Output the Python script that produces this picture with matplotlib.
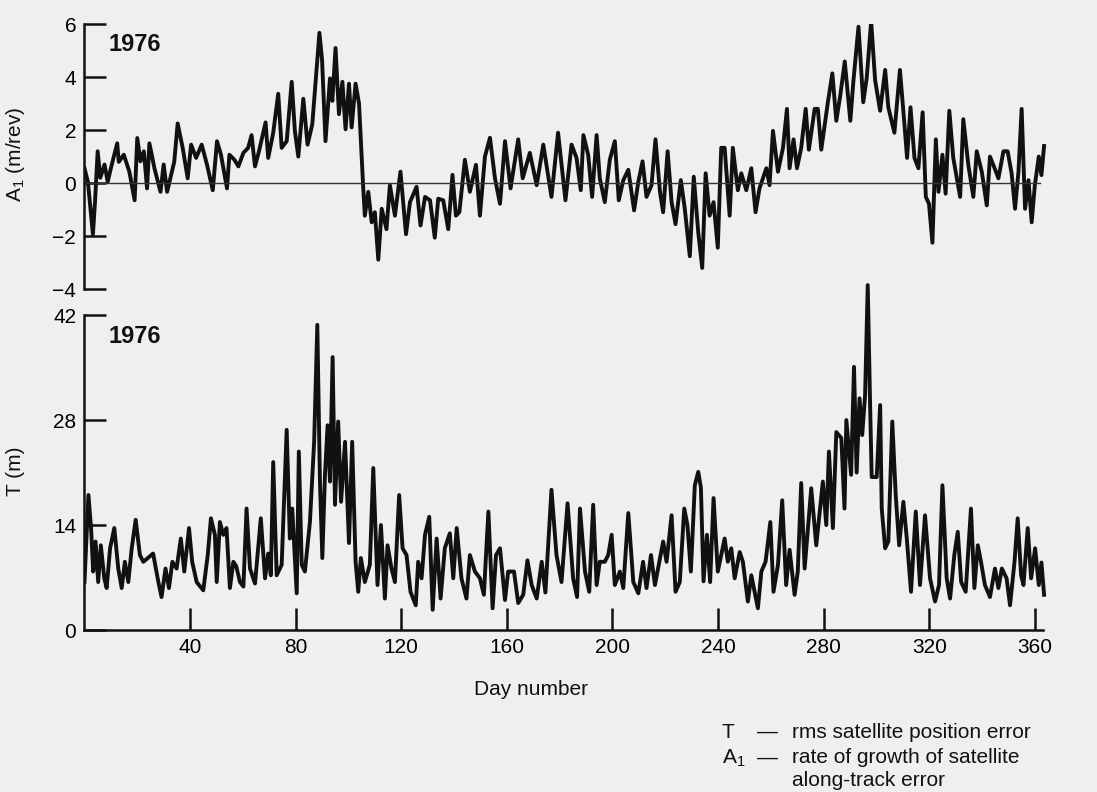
import matplotlib.pyplot as plt

plt.rcParams['font.family'] = ['Liberation Sans', 'DejaVu Sans']
plt.rcParams['mathtext.fontset'] = 'custom'
plt.rcParams['mathtext.rm'] = 'Liberation Sans'

# A1 (m/rev), day number vs value
a1_day = [0, 1.3, 3.2, 4, 5, 6, 7.6, 8.8, 10, 12.4, 13, 14.9, 17, 19, 20, 21.2, 22.5, 23.7, 24.6, 26.5,
          28.8, 30, 31.3, 32.8, 34, 35.3, 37.2, 39.1, 40.4, 42.3, 44.4, 46.4, 48.6, 50.2, 51.7, 54, 54.9, 56.8,
          58.3, 60.2, 62, 63.3, 64.6, 66.1, 68.6, 69.6, 71.5, 73.4, 74.7, 76.6, 78.5, 79.7, 81, 82.9, 84.5,
          86.3, 87.6, 89, 90, 91.3, 93, 93.9, 95.1, 96.4, 97.7, 98.9, 100.2, 101.2, 102.7, 104, 105.6, 106.2,
          107.5, 108.8, 110, 111.3, 112.6, 114.4, 115.7, 117.6, 119.7, 121.8, 123.3, 125.8, 127.3, 129, 130.9,
          132.7, 134, 135.9, 137.8, 139.4, 140.7, 142, 144.1, 146, 148.3, 149.8, 151.7, 153.6, 155.5, 157.4,
          159.3, 161.4, 164.3, 166, 168.7, 171.3, 173.8, 176.9, 179.4, 182.2, 184.5, 186.4, 188, 189, 190.8,
          192.3, 194, 195.2, 197.1, 199, 200.9, 202.4, 204.1, 206, 208.2, 209.8, 211.4, 212.9, 214.8, 216.3,
          218, 219.2, 220.9, 222.4, 223.9, 225.9, 227.4, 229.3, 230.8, 232.5, 234, 235.3, 236.8, 238.3, 239.9,
          241.2, 242.5, 244.4, 245.6, 247.5, 248.8, 250.7, 252.6, 254.2, 255.7, 258.3, 259.5, 260.8, 262.7,
          264.6, 266.1, 267.1, 268.6, 269.9, 271.5, 273.2, 274.4, 276.6, 277.8, 279.1, 281.6, 283.3, 284.8,
          286.3, 288, 290.1, 291.3, 293.2, 295, 296.3, 298, 299.5, 301.4, 303.3, 304.5, 306.8, 308.9, 310.6,
          311.6, 312.9, 314.4, 315.9, 317.5, 318.7, 319.9, 321.2, 322.5, 323.5, 325, 326.2, 327.6, 329.1,
          331.7, 332.9, 334.8, 336.7, 338, 339.9, 341.8, 343, 345, 346.2, 348.1, 349.7, 351.2, 352.5, 353.8,
          355, 356.3, 357.6, 358.8, 360, 361.5, 362.5, 363.5]
a1_val = [0.56, 0.05, -1.93, -0.7, 1.2, 0.2, 0.7, 0.05, 0.56, 1.5, 0.8, 1.07, 0.43, -0.65, 1.7, 0.82, 1.2,
          -0.2, 1.5, 0.56, -0.33, 0.7, -0.33, 0.3, 0.8, 2.25, 1.33, 0.18, 1.45, 0.95, 1.45, 0.7, -0.27, 1.58,
          1.07, -0.2, 1.07, 0.88, 0.63, 1.14, 1.33, 1.81, 0.63, 1.2, 2.29, 0.95, 1.9, 3.37, 1.33, 1.58, 3.82,
          1.97, 1.0, 3.18, 1.45, 2.22, 3.88, 5.67, 4.65, 1.58, 3.95, 3.1, 5.1, 2.6, 3.82, 2.03, 3.75, 2.1, 3.75,
          3.0, -0.2, -1.23, -0.33, -1.48, -1.1, -2.89, -0.97, -1.74, -0.08, -1.23, 0.43, -1.93, -0.72, -0.14,
          -1.6, -0.52, -0.65, -2.06, -0.59, -0.65, -1.74, 0.31, -1.23, -1.1, 0.88, -0.33, 0.69, -1.23, 1.0,
          1.71, 0.18, -0.78, 1.58, -0.2, 1.65, 0.18, 1.14, -0.08, 1.45, -0.52, 1.9, -0.65, 1.45, 0.95, -0.27,
          1.81, 1.07, -0.52, 1.81, 0.18, -0.72, 0.88, 1.58, -0.65, 0.11, 0.5, -1.03, 0.05, 0.82, -0.52, -0.08,
          1.65, -0.33, -1.1, 1.2, -0.72, -1.55, 0.11, -0.97, -2.76, 0.24, -1.86, -3.2, 0.37, -1.23, -0.72,
          -2.44, 1.33, 1.33, -1.23, 1.33, -0.27, 0.37, -0.27, 0.56, -1.1, -0.2, 0.56, -0.08, 1.97, 0.43, 1.33,
          2.8, 0.56, 1.65, 0.56, 1.33, 2.8, 1.26, 2.8, 2.8, 1.26, 3.05, 4.14, 2.35, 3.31, 4.59, 2.35, 3.88,
          5.9, 3.05, 3.95, 6.1, 3.88, 2.73, 4.27, 2.86, 1.9, 4.27, 2.22, 0.95, 2.86, 0.95, 0.56, 2.67, -0.52,
          -0.78, -2.25, 1.65, -0.33, 1.07, -0.4, 2.73, 0.95, -0.52, 2.41, 0.69, -0.52, 1.2, 0.43, -0.84, 1.0,
          0.5, 0.18, 1.2, 1.2, 0.37, -0.97, 0.43, 2.8, -0.97, 0.11, -1.48, -0.08, 1.0, 0.3, 1.4]

# T (m)
t_day = [0, 1.5, 2.5, 3.3, 4.2, 5.2, 6.2, 7.5, 8.4, 9.7, 11.3, 12.8, 14.1, 15.3, 16.6, 17.9, 19.4, 21, 22.3,
         24, 26, 28, 29.2, 30.7, 32, 33.3, 34.9, 36.5, 37.8, 39.6, 40.8, 42.5, 45, 46.7, 47.9, 49.4, 50.1,
         51.3, 52.6, 53.8, 55.1, 56.4, 57.5, 58.9, 60.2, 61.4, 62.7, 64.6, 66.8, 68.4, 69.6, 70.6, 71.5, 72.8,
         74.7, 76.6, 77.8, 78.7, 80.4, 81.2, 82.3, 83.5, 85.4, 87, 88.2, 89.2, 90.1, 91.1, 92.1, 93, 94, 94.9,
         96.1, 97.2, 98.7, 100.2, 101.4, 102.7, 103.7, 104.7, 106.2, 108.1, 109.4, 111, 112.3, 113.8, 114.8,
         116.3, 117.6, 119.2, 120.5, 122, 123.5, 125.5, 126.4, 127.7, 129, 130.6, 131.9, 133.4, 134.9, 136.5,
         138.4, 139.7, 141, 142.8, 144.7, 146, 147.9, 149.8, 151.3, 153, 154.6, 155.9, 157.4, 159.3, 160.5,
         162.7, 164.3, 166.2, 167.8, 169.4, 171.3, 173.2, 174.6, 176.9, 178.8, 180.7, 183, 185.1, 186.6,
         187.7, 189.6, 191.2, 192.7, 194, 195.2, 197.1, 198.4, 199.7, 200.9, 202.8, 204.1, 206, 207.9, 209.8,
         211.6, 212.9, 214.6, 216.1, 218, 219.2, 220.5, 222.4, 223.9, 225.5, 227.2, 228.4, 229.7, 231.2,
         232.5, 233.5, 234.5, 235.8, 237, 238.3, 239.9, 242.5, 243.7, 245, 246.3, 248.2, 249.4, 251.3, 252.6,
         255.1, 256.4, 258, 259.8, 261, 262.7, 264.3, 265.8, 267.1, 269, 270.2, 271.5, 272.8, 275.3, 277.2,
         279.7, 281, 282, 283.5, 284.8, 286.7, 287.9, 288.6, 290.4, 291.5, 292.5, 293.6, 294.6, 295.7, 296.7,
         297.6, 298.2, 300.1, 301.4, 302, 303.3, 304.5, 306, 307.3, 308.6, 310.2, 311.5, 313.1, 314.9, 316.5,
         318.4, 320.3, 322.2, 323.7, 325, 326.6, 327.9, 329.5, 330.8, 332.1, 333.8, 335.8, 337.1, 338.4,
         339.6, 341.1, 343, 344.9, 346.2, 347.5, 349.3, 350.6, 352.3, 353.5, 354.8, 355.7, 357.3, 358.6,
         360.1, 361.5, 362.5, 363.5]
t_val = [6.4, 18, 13.6, 7.8, 11.8, 6.4, 11.3, 6.9, 5.6, 10.9, 13.6, 8.2, 5.6, 9.1, 6.4, 10.9, 14.7, 10, 9.1,
         9.6, 10.2, 6.4, 4.4, 8.2, 5.6, 9.1, 8.2, 12.2, 7.8, 13.6, 9.1, 6.4, 5.3, 10, 14.9, 12.7, 6.4, 14.4,
         12.7, 13.6, 5.6, 9.1, 8.5, 6.4, 5.8, 16.2, 8.2, 6.2, 14.9, 6.9, 10.2, 7.3, 22.4, 7.3, 8.7, 26.7, 12.2,
         16.2, 4.9, 23.8, 8.7, 7.8, 14.4, 25.1, 40.7, 19.8, 9.6, 20.7, 27.3, 19.8, 36.4, 16.7, 27.8, 17.1,
         25.1, 11.6, 25.1, 9.1, 5.1, 9.6, 6.4, 8.7, 21.6, 6, 14, 4.2, 11.3, 8.2, 6.4, 18, 10.9, 10, 5.1, 3.3,
         9.1, 6.9, 12.7, 15.1, 2.7, 12.2, 4.2, 10.9, 12.9, 6.9, 13.6, 6.9, 4.2, 10, 7.8, 6.9, 4.7, 15.8, 2.9,
         10, 10.9, 4, 7.8, 7.8, 3.6, 4.7, 9.3, 6, 4.2, 9.1, 5.0, 18.7, 10, 6.4, 16.9, 6.9, 4.4, 16.2, 7.8, 5.1,
         16.7, 6, 9.1, 9.1, 10, 12.7, 6, 7.8, 5.6, 15.6, 6.4, 4.9, 9.1, 5.6, 10, 6, 9.6, 11.8, 9.1, 15.3, 5.1,
         6.4, 16.2, 14, 7.8, 19.3, 21.1, 19, 6.5, 12.7, 6.4, 17.6, 7.8, 12.2, 9.1, 10.9, 6.9, 10.4, 9.1, 3.8,
         7.3, 2.9, 7.8, 9.1, 14.4, 5.1, 8.7, 17.3, 6, 10.7, 4.7, 7.8, 19.6, 8.2, 18.9, 11.3, 19.8, 14, 23.8,
         13.6, 26.4, 25.6, 16.2, 28, 20.7, 35.1, 21, 30.9, 26, 31.3, 46, 30, 20.4, 20.4, 30, 16.2, 10.9, 11.8,
         27.8, 18, 11.3, 17.1, 12.2, 5.1, 15.8, 6, 15.3, 6.9, 3.8, 6, 19.3, 6.9, 4.2, 10, 13.1, 6.4, 5.1, 16.2,
         5.6, 11.3, 9.1, 6, 4.4, 8.2, 5.6, 8.2, 6.9, 3.3, 9.1, 14.9, 7.3, 6, 13.6, 6.9, 10.9, 6, 9, 4.7]

x_ticks = [40, 80, 120, 160, 200, 240, 280, 320, 360]
a1_ticks = [-4, -2, 0, 2, 4, 6]
t_ticks = [0, 14, 28, 42]

ink = '#111111'
paper = '#efefef'

fig = plt.figure(figsize=(10.97, 7.92), dpi=100, facecolor=paper)

# upper panel: A1
ax1 = fig.add_axes([0.077, 0.635, 0.8904, 0.3346])
ax1.set_facecolor('none')
ax1.plot(a1_day, a1_val, color=ink, lw=2.8, solid_joinstyle='round')
ax1.plot([0, 362], [0, 0], color='#333333', lw=1.0)
ax1.set_xlim(0, 370)
ax1.set_ylim(-4, 6)
for s in ['top', 'right', 'bottom']:
    ax1.spines[s].set_visible(False)
ax1.spines['left'].set_linewidth(1.8)
ax1.spines['left'].set_color(ink)
ax1.set_xticks([])
ax1.set_yticks(a1_ticks)
ax1.set_yticklabels([str(v).replace('-', '\u2212') for v in a1_ticks])
ax1.tick_params(axis='y', direction='in', length=16, width=1.8, color=ink, labelsize=15, pad=6)
ax1.text(9, 5.0, '1976', fontsize=17, fontweight='bold', color=ink)

# lower panel: T
ax2 = fig.add_axes([0.077, 0.2045, 0.8904, 0.445])
ax2.set_facecolor('none')
ax2.plot(t_day, t_val, color=ink, lw=2.8, solid_joinstyle='round')
ax2.set_xlim(0, 370)
ax2.set_ylim(0, 47)
for s in ['top', 'right']:
    ax2.spines[s].set_visible(False)
for s in ['left', 'bottom']:
    ax2.spines[s].set_linewidth(1.8)
    ax2.spines[s].set_color(ink)
ax2.spines['left'].set_bounds(0, 42)
ax2.spines['bottom'].set_bounds(0, 363)
ax2.set_xticks(x_ticks)
ax2.set_yticks(t_ticks)
ax2.tick_params(axis='both', direction='in', length=16, width=1.8, color=ink, labelsize=15, pad=6)
ax2.text(9, 38.3, '1976', fontsize=17, fontweight='bold', color=ink)

fig.text(0.484, 0.129, 'Day number', fontsize=15, ha='center', va='center', color=ink)
fig.text(0.014, 0.805, r'A$_1$ (m/rev)', rotation=90, fontsize=15, va='center', ha='center', color=ink)
fig.text(0.014, 0.405, 'T (m)', rotation=90, fontsize=15, va='center', ha='center', color=ink)

# key in the lower right
fig.text(0.658, 0.075, 'T', fontsize=15, color=ink, va='center')
fig.text(0.690, 0.075, '\u2014', fontsize=15, color=ink, va='center')
fig.text(0.722, 0.075, 'rms satellite position error', fontsize=15, color=ink, va='center')
fig.text(0.658, 0.043, r'A$_1$', fontsize=15, color=ink, va='center')
fig.text(0.690, 0.043, '\u2014', fontsize=15, color=ink, va='center')
fig.text(0.722, 0.043, 'rate of growth of satellite', fontsize=15, color=ink, va='center')
fig.text(0.722, 0.014, 'along-track error', fontsize=15, color=ink, va='center')

fig.savefig('out.png', dpi=100, facecolor=paper)
